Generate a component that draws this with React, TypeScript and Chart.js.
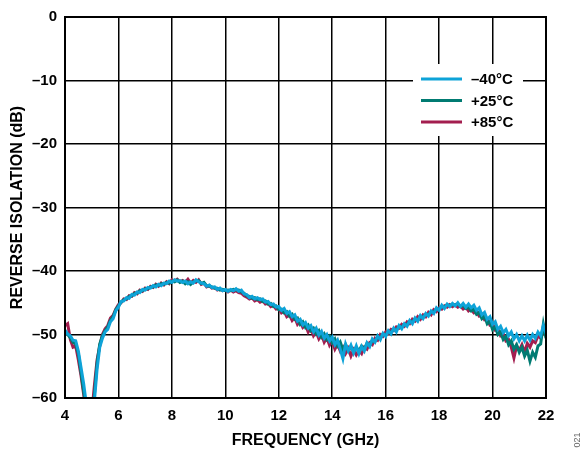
import React, { useEffect, useRef } from "react";
import { Chart, registerables } from "chart.js";

Chart.register(...registerables);

// Frequency grid (GHz), 0.1 GHz step from 4 to 22
const FREQ_START = 4;
const FREQ_STEP = 0.1;
const FREQ_COUNT = 181;
const FREQUENCIES_GHZ: number[] = Array.from({ length: FREQ_COUNT }, (_, i) =>
  Math.round((FREQ_START + i * FREQ_STEP) * 10) / 10
);

const SERIES_LABELS = ["–40°C", "+25°C", "+85°C"];
const SERIES_COLORS = ["#0EA3D8", "#007B72", "#A31E4F"];

// Reverse isolation (dB)
const ISO_M40: number[] = [
  -49.3, -49.9, -50.2, -50.9, -51.0, -52.6, -55.2, -57.8, -61.0, -63.0,
  -63.5, -60.5, -55.5, -52.0, -50.6, -49.6, -49.2, -48.0, -47.5, -46.3,
  -45.7, -44.8, -44.7, -44.2, -44.3, -43.7, -43.8, -43.3, -43.4, -42.9,
  -43.0, -42.6, -42.7, -42.3, -42.5, -42.1, -42.3, -41.9, -42.0, -41.6,
  -41.8, -41.4, -41.6, -41.5, -41.8, -41.6, -42.0, -41.7, -41.9, -41.4,
  -41.7, -41.9, -42.0, -42.4, -42.2, -42.6, -42.5, -42.9, -42.7, -43.1,
  -42.9, -43.2, -42.9, -43.1, -42.8, -43.2, -43.0, -43.6, -43.7, -44.2,
  -44.0, -44.4, -44.2, -44.5, -44.4, -44.9, -44.8, -45.3, -45.2, -45.7,
  -45.6, -46.2, -45.9, -46.7, -46.4, -47.2, -46.9, -47.9, -47.6, -48.5,
  -48.1, -49.0, -48.6, -49.6, -49.0, -50.1, -49.5, -50.6, -50.0, -51.0,
  -50.4, -51.6, -50.9, -52.3, -53.8, -51.5, -52.6, -51.7, -52.9, -51.8,
  -53.0, -51.9, -52.6, -51.3, -51.9, -50.7, -51.2, -50.2, -50.8, -49.8,
  -50.3, -49.4, -49.9, -49.0, -49.6, -48.6, -49.1, -48.3, -48.7, -47.8,
  -48.3, -47.4, -47.9, -47.0, -47.5, -46.7, -47.1, -46.3, -46.7, -45.8,
  -46.2, -45.4, -45.9, -45.2, -45.6, -45.1, -45.5, -45.0, -45.6, -45.1,
  -45.7, -45.2, -45.8, -45.4, -46.2, -45.8, -46.9, -46.5, -47.6, -47.2,
  -48.4, -48.0, -49.2, -48.7, -49.7, -49.2, -50.2, -49.6, -50.7, -50.0,
  -51.0, -50.2, -51.0, -50.1, -50.9, -50.0, -50.6, -49.6, -50.2, -48.6,
  -49.8,
];

const ISO_P25: number[] = [
  -49.6, -50.0, -50.5, -51.2, -51.5, -53.0, -56.0, -59.0, -62.0, -63.5,
  -63.0, -59.5, -54.5, -51.5, -50.2, -49.4, -48.8, -47.8, -47.2, -46.1,
  -45.5, -44.9, -44.5, -44.4, -44.0, -43.9, -43.5, -43.5, -43.1, -43.1,
  -42.8, -42.8, -42.5, -42.5, -42.2, -42.3, -42.0, -42.1, -41.8, -41.9,
  -41.6, -41.7, -41.4, -41.8, -41.6, -42.0, -41.7, -42.1, -41.7, -41.6,
  -41.5, -42.0, -41.8, -42.3, -42.4, -42.5, -42.7, -42.7, -43.0, -42.9,
  -43.1, -43.0, -43.1, -42.9, -43.0, -43.0, -43.3, -43.5, -43.9, -44.0,
  -44.3, -44.2, -44.5, -44.4, -44.8, -44.7, -45.2, -45.1, -45.6, -45.5,
  -46.1, -46.0, -46.6, -46.4, -47.1, -46.8, -47.6, -47.4, -48.4, -48.0,
  -48.9, -48.5, -49.4, -49.0, -49.9, -49.4, -50.4, -49.9, -50.8, -50.3,
  -51.3, -50.7, -51.8, -51.2, -52.4, -51.6, -52.5, -51.9, -52.7, -52.0,
  -52.6, -51.8, -52.3, -51.4, -51.8, -50.9, -51.1, -50.4, -50.6, -49.9,
  -50.1, -49.5, -49.7, -49.1, -49.3, -48.7, -48.9, -48.4, -48.5, -47.9,
  -48.1, -47.5, -47.8, -47.1, -47.3, -46.8, -46.9, -46.4, -46.5, -46.0,
  -46.0, -45.6, -45.7, -45.3, -45.5, -45.3, -45.4, -45.2, -45.6, -45.4,
  -45.9, -45.7, -46.3, -46.0, -46.8, -46.5, -47.5, -47.1, -48.3, -47.9,
  -49.2, -48.8, -50.0, -49.6, -50.8, -50.3, -51.6, -51.0, -52.3, -51.6,
  -52.8, -52.0, -53.4, -52.5, -54.2, -52.8, -53.6, -51.8, -51.5, -48.4,
  -50.6,
];

const ISO_P85: number[] = [
  -48.6, -48.3, -50.8, -52.0, -51.8, -54.0, -56.5, -59.5, -62.5, -64.0,
  -62.5, -58.0, -54.0, -51.8, -50.0, -49.1, -48.6, -47.4, -47.0, -46.0,
  -45.3, -45.0, -44.4, -44.5, -43.9, -44.0, -43.4, -43.6, -43.0, -43.2,
  -42.7, -42.9, -42.4, -42.6, -42.1, -42.4, -41.9, -42.2, -41.7, -42.0,
  -41.4, -41.6, -41.3, -41.7, -41.5, -41.8, -41.3, -41.9, -41.5, -41.8,
  -41.4, -42.1, -41.9, -42.5, -42.3, -42.7, -42.6, -43.0, -42.8, -43.1,
  -43.0, -43.3, -43.0, -43.3, -43.1, -43.4, -43.5, -43.9, -44.1, -44.4,
  -44.2, -44.7, -44.5, -44.9, -44.7, -45.2, -45.1, -45.6, -45.4, -46.0,
  -45.9, -46.6, -46.3, -47.2, -46.9, -47.8, -47.3, -48.4, -47.9, -48.9,
  -48.5, -49.6, -49.0, -50.2, -49.6, -50.7, -50.0, -51.2, -50.5, -51.7,
  -51.0, -52.3, -51.5, -52.6, -52.0, -53.0, -52.2, -53.4, -52.4, -53.2,
  -52.5, -53.0, -52.0, -52.3, -51.3, -51.6, -50.6, -50.9, -50.0, -50.3,
  -49.6, -49.8, -49.2, -49.4, -48.8, -49.0, -48.4, -48.7, -48.0, -48.3,
  -47.6, -47.9, -47.2, -47.6, -46.9, -47.2, -46.5, -46.9, -46.1, -46.4,
  -45.8, -46.0, -45.5, -45.7, -45.3, -45.6, -45.3, -45.7, -45.5, -46.0,
  -45.7, -46.3, -46.0, -46.6, -46.4, -47.1, -46.9, -47.7, -47.6, -48.5,
  -48.3, -49.3, -49.1, -50.2, -49.9, -51.0, -50.8, -52.0, -53.7, -51.8,
  -52.5, -51.6, -52.8, -51.4, -52.0, -51.0, -51.3, -50.2, -50.6, -49.5,
  -49.9,
];

const X_MIN = 4;
const X_MAX = 22;
const X_STEP = 2;
const Y_MIN = -60;
const Y_MAX = 0;
const Y_STEP = 10;

const FONT_FAMILY = "'Liberation Sans', Arial, Helvetica, sans-serif";

const toPoints = (vals: number[]) =>
  FREQUENCIES_GHZ.map((f, i) => ({ x: f, y: vals[i] }));

const frameAndLegendPlugin = {
  id: "frameAndLegend",
  afterDatasetsDraw(chart: any) {
    const { ctx, chartArea } = chart;
    ctx.save();
    // legend box
    const boxLeft = chartArea.left + 348;
    const boxTop = chartArea.top + 47;
    const boxW = 110;
    const boxH = 72;
    ctx.fillStyle = "#ffffff";
    ctx.fillRect(boxLeft, boxTop, boxW, boxH);
    const rows = [
      { label: SERIES_LABELS[0], color: SERIES_COLORS[0] },
      { label: SERIES_LABELS[1], color: SERIES_COLORS[1] },
      { label: SERIES_LABELS[2], color: SERIES_COLORS[2] },
    ];
    ctx.font = `bold 15px ${FONT_FAMILY}`;
    ctx.textBaseline = "middle";
    ctx.textAlign = "left";
    rows.forEach((r, i) => {
      const y = boxTop + 15 + i * 21.5;
      ctx.strokeStyle = r.color;
      ctx.lineWidth = 3;
      ctx.beginPath();
      ctx.moveTo(boxLeft + 8, y);
      ctx.lineTo(boxLeft + 49, y);
      ctx.stroke();
      ctx.fillStyle = "#000000";
      ctx.fillText(r.label, boxLeft + 58, y + 1);
    });
    // frame
    ctx.strokeStyle = "#000000";
    ctx.lineWidth = 2;
    ctx.strokeRect(
      chartArea.left,
      chartArea.top,
      chartArea.right - chartArea.left,
      chartArea.bottom - chartArea.top
    );
    ctx.restore();
  },
  afterDraw(chart: any) {
    const { ctx, width, height } = chart;
    ctx.save();
    ctx.translate(width - 7, height - 12);
    ctx.rotate(-Math.PI / 2);
    ctx.font = `9px ${FONT_FAMILY}`;
    ctx.fillStyle = "#666666";
    ctx.textAlign = "center";
    ctx.textBaseline = "middle";
    ctx.fillText("021", 0, 0);
    ctx.restore();
  },
};

export default function App() {
  const canvasRef = useRef<HTMLCanvasElement | null>(null);

  useEffect(() => {
    document.body.style.margin = "0";
    const canvas = canvasRef.current;
    if (!canvas) return;
    const chart = new Chart(canvas, {
      type: "line",
      data: {
        datasets: [
          {
            label: SERIES_LABELS[0],
            data: toPoints(ISO_M40),
            borderColor: SERIES_COLORS[0],
            borderWidth: 3,
            pointRadius: 0,
            tension: 0,
          },
          {
            label: SERIES_LABELS[1],
            data: toPoints(ISO_P25),
            borderColor: SERIES_COLORS[1],
            borderWidth: 3,
            pointRadius: 0,
            tension: 0,
          },
          {
            label: SERIES_LABELS[2],
            data: toPoints(ISO_P85),
            borderColor: SERIES_COLORS[2],
            borderWidth: 3,
            pointRadius: 0,
            tension: 0,
          },
        ],
      },
      options: {
        responsive: false,
        animation: false,
        layout: { padding: { top: 16, right: 39, left: 0, bottom: 0 } },
        plugins: {
          legend: { display: false },
          tooltip: { enabled: false },
        },
        scales: {
          x: {
            type: "linear",
            min: X_MIN,
            max: X_MAX,
            afterFit: (scale: any) => {
              scale.height = 54;
            },
            ticks: {
              stepSize: X_STEP,
              color: "#000",
              padding: 9,
              font: { family: FONT_FAMILY, size: 15, weight: "bold" },
            },
            grid: { color: "#000", lineWidth: 1.5, drawTicks: false },
            border: { display: false },
            title: {
              display: true,
              text: "FREQUENCY (GHz)",
              color: "#000",
              font: { family: FONT_FAMILY, size: 16, weight: "bold" },
              padding: { top: 0, bottom: 2 },
            },
          },
          y: {
            type: "linear",
            min: Y_MIN,
            max: Y_MAX,
            afterFit: (scale: any) => {
              scale.width = 65;
            },
            ticks: {
              stepSize: Y_STEP,
              color: "#000",
              padding: 8,
              font: { family: FONT_FAMILY, size: 15, weight: "bold" },
              callback: (v: any) => (v < 0 ? "–" + Math.abs(v) : String(v)),
            },
            grid: { color: "#000", lineWidth: 1.5, drawTicks: false },
            border: { display: false },
            title: {
              display: true,
              text: "REVERSE ISOLATION (dB)",
              color: "#000",
              font: { family: FONT_FAMILY, size: 16, weight: "bold" },
              padding: { top: 8, bottom: 0 },
            },
          },
        },
      },
      plugins: [frameAndLegendPlugin],
    });
    return () => chart.destroy();
  }, []);

  return (
    <div style={{ width: 585, height: 452 }}>
      <canvas ref={canvasRef} width={585} height={452} style={{ display: "block" }} />
    </div>
  );
}
